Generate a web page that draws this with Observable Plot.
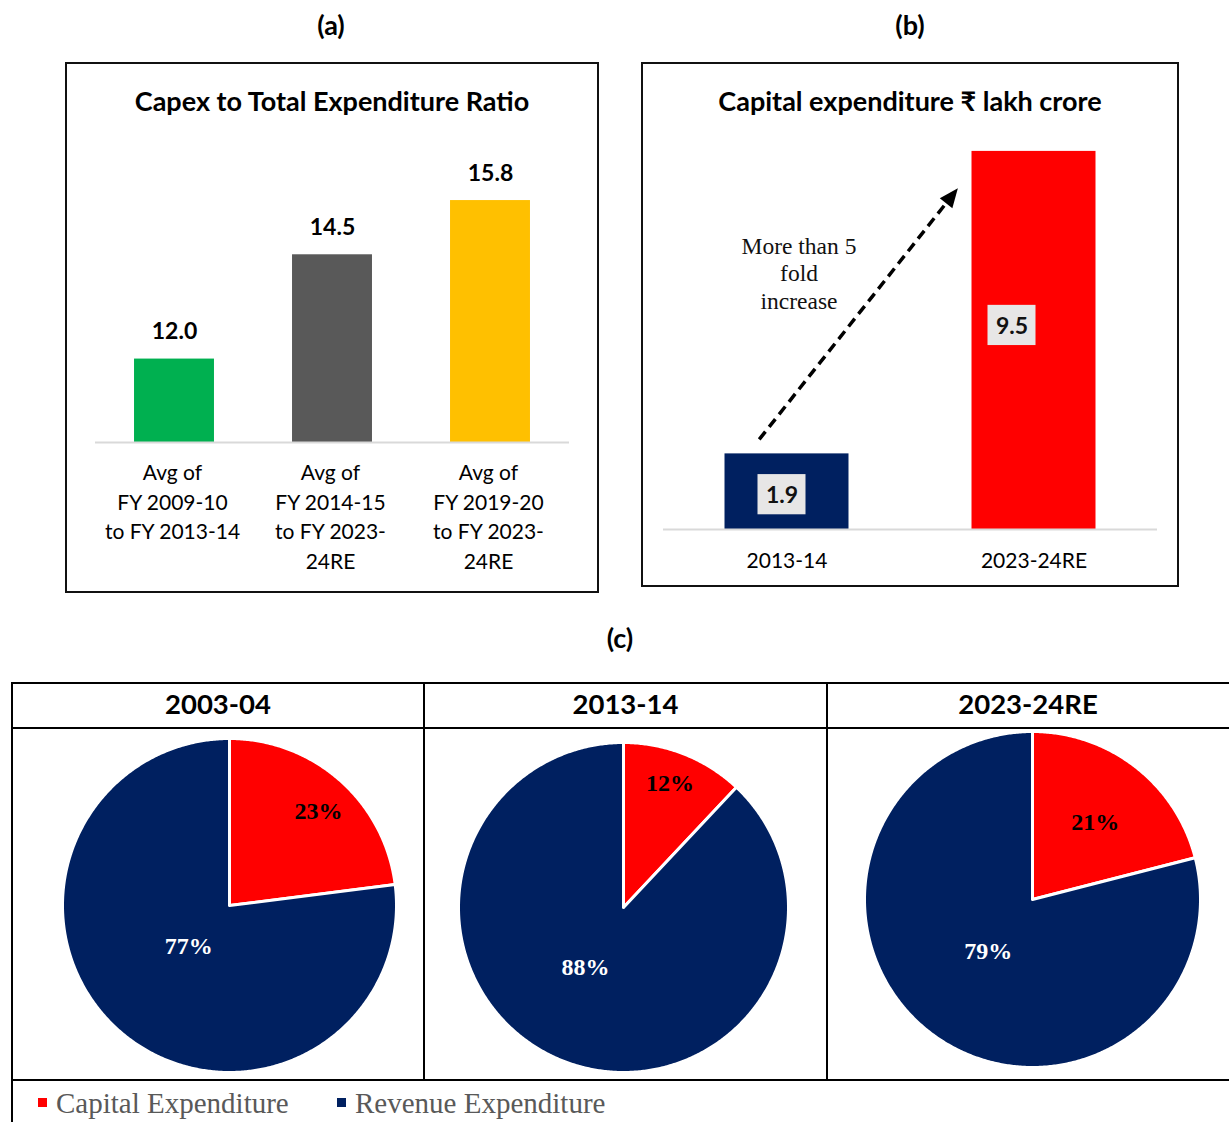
<!DOCTYPE html>
<html>
<head>
<meta charset="utf-8">
<script src="https://cdn.jsdelivr.net/npm/d3@7"></script>
<script src="https://cdn.jsdelivr.net/npm/@observablehq/plot@0.6"></script>
<style>
  html, body { margin: 0; padding: 0; background: #fff; }
  #root { position: relative; width: 1229px; height: 1122px; overflow: hidden; background: #fff; font-family: Lato, "Open Sans", sans-serif; color: #000; }
  .abs { position: absolute; }
  .plabel { font-weight: 700; font-size: 27px; text-align: center; width: 80px; line-height: 30px; }
  .box { border: 2px solid #111; box-sizing: border-box; }
  .title { font-weight: 700; font-size: 27px; text-align: center; line-height: 30px; white-space: nowrap; }
  .hline { background: #000; height: 2px; }
  .vline { background: #000; width: 2px; }
  .head { font-weight: 700; font-size: 27.5px; text-align: center; line-height: 30px; }
  .leg { font-family: "Liberation Serif", "Times New Roman", serif; font-size: 29px; color: #595959; line-height: 32px; white-space: nowrap; }
  .sw { width: 9px; height: 9px; }
</style>
</head>
<body>
<div id="root"></div>
<script>
// ---------------- data ----------------
const ratioCategories = [
  "Avg of\nFY 2009-10\nto FY 2013-14",
  "Avg of\nFY 2014-15\nto FY 2023-\n24RE",
  "Avg of\nFY 2019-20\nto FY 2023-\n24RE"
];
const ratioValues = [12.0, 14.5, 15.8];

const capexYears = ["2013-14", "2023-24RE"];
const capexValues = [1.9, 9.5];   // ₹ lakh crore

const pieYears = ["2003-04", "2013-14", "2023-24RE"];
const seriesNames = ["Capital Expenditure", "Revenue Expenditure"];
const capitalShare = [23, 12, 21];
const revenueShare = [77, 88, 79];

// ---------------- styles ----------------
const ratioColors = ["#00B050", "#595959", "#FFC000"];
const capexColors = ["#002060", "#FF0000"];
const seriesColors = {"Capital Expenditure": "#FF0000", "Revenue Expenditure": "#002060"};
const SANS = "Lato, 'Open Sans', sans-serif";
const SERIF = "'Liberation Serif', 'Times New Roman', serif";

const root = document.getElementById("root");
function addDiv(cls, css, text) {
  const d = document.createElement("div");
  d.className = "abs " + cls;
  d.style.cssText += css;
  if (text != null) d.textContent = text;
  root.appendChild(d);
  return d;
}
function place(node, left, top) {
  const d = addDiv("", `left:${left}px;top:${top}px;`);
  d.appendChild(node);
  return d;
}

// ---------------- panel (a) ----------------
addDiv("plabel", "left:291px;top:10px;", "(a)");
addDiv("box", "left:65px;top:62px;width:534px;height:531px;");
addDiv("title", "left:65px;top:86px;width:534px;", "Capex to Total Expenditure Ratio");

const ratioData = ratioCategories.map((c, i) => ({cat: c, value: ratioValues[i], color: ratioColors[i]}));
const plotA = Plot.plot({
  width: 530, height: 460,
  marginLeft: 29, marginRight: 27, marginTop: 20, marginBottom: 148,
  style: {background: "transparent", fontFamily: SANS, overflow: "visible"},
  x: {domain: ratioCategories, paddingInner: 0.494, paddingOuter: 0.247, round: false, axis: null},
  y: {domain: [10, 17], axis: null},
  color: {type: "identity"},
  marks: [
    Plot.barY(ratioData, {x: "cat", y1: 10, y2: "value", fill: "color"}),
    Plot.ruleY([10], {stroke: "#d9d9d9", strokeWidth: 2}),
    Plot.text(ratioData, {x: "cat", y: "value", text: d => d.value.toFixed(1), dy: -27,
      fontSize: 23, fontWeight: 700, fill: "#000"}),
    Plot.text(ratioData, {x: "cat", y: 10, text: "cat", lineAnchor: "top", dy: 17, dx: -2,
      fontSize: 21, lineHeight: 1.4, fill: "#000"})
  ]
});
place(plotA, 66, 130);

// ---------------- panel (b) ----------------
addDiv("plabel", "left:870px;top:10px;", "(b)");
addDiv("box", "left:641px;top:62px;width:538px;height:525px;");
addDiv("title", "left:641px;top:86px;width:538px;", "Capital expenditure ₹ lakh crore");

const capexData = capexYears.map((c, i) => ({year: c, value: capexValues[i], color: capexColors[i]}));
const boxShift = [[-5, 3], [-22, -15]];   // label-box offsets (px)
const arrowFrom = {year: "2013-14", value: 2.25, frac: 0.28};
const arrowTo = {year: "2023-24RE", value: 8.56, frac: -0.11};

function dashedArrow(index, scales) {
  const x = scales.x, y = scales.y;
  const bw = typeof x.bandwidth === "function" ? x.bandwidth() : 0;
  const x1 = x(arrowFrom.year) + arrowFrom.frac * bw, y1 = y(arrowFrom.value);
  const x2 = x(arrowTo.year) + arrowTo.frac * bw, y2 = y(arrowTo.value);
  const L = Math.hypot(x2 - x1, y2 - y1), ux = (x2 - x1) / L, uy = (y2 - y1) / L;
  const head = 19, half = 8;
  const bx = x2 - ux * head, by = y2 - uy * head;
  const g = d3.create("svg:g");
  g.append("line").attr("x1", x1).attr("y1", y1).attr("x2", bx + ux * 2).attr("y2", by + uy * 2)
    .attr("stroke", "#000").attr("stroke-width", 3.5).attr("stroke-dasharray", "10 6");
  g.append("path")
    .attr("d", `M${x2},${y2}L${bx - uy * half},${by + ux * half}L${bx + uy * half},${by - ux * half}Z`)
    .attr("fill", "#000");
  return g.node();
}

const plotB = Plot.plot({
  width: 535, height: 465,
  marginLeft: 21, marginRight: 20, marginTop: 11, marginBottom: 56,
  style: {background: "transparent", fontFamily: SANS, overflow: "visible"},
  x: {domain: capexYears, paddingInner: 0.498, paddingOuter: 0.249, round: false, axis: null},
  y: {domain: [0, 10], axis: null},
  color: {type: "identity"},
  marks: [
    Plot.barY(capexData, {x: "year", y: "value", fill: "color"}),
    Plot.ruleY([0], {stroke: "#d9d9d9", strokeWidth: 2}),
    ...capexData.map((d, i) => Plot.barY([d], {x: "year", y1: d.value / 2 - 0.505, y2: d.value / 2 + 0.505,
      insetLeft: 38, insetRight: 38, dx: boxShift[i][0], dy: boxShift[i][1], fill: "#E7E6E6"})),
    ...capexData.map((d, i) => Plot.text([d], {x: "year", y: d.value / 2, text: d => d.value.toFixed(1),
      dx: boxShift[i][0], dy: boxShift[i][1] + 1, fontSize: 23, fontWeight: 700, fill: "#111"})),
    Plot.text(capexData, {x: "year", y: 0, text: "year", dy: 32, fontSize: 21, fill: "#000"}),
    Plot.text(["More than 5\nfold\nincrease"], {x: () => capexYears[0], y: () => 6.46, text: d => d, dx: 12,
      fontFamily: SERIF, fontSize: 23.5, lineHeight: 1.18, fill: "#111"}),
    dashedArrow
  ]
});
place(plotB, 642, 120);

// ---------------- panel (c) ----------------
addDiv("plabel", "left:580px;top:623px;", "(c)");
addDiv("hline", "left:12px;top:682px;width:1217px;");
addDiv("hline", "left:12px;top:727px;width:1217px;height:1.5px;");
addDiv("hline", "left:12px;top:1079px;width:1217px;");
addDiv("vline", "left:11px;top:682px;height:440px;");
addDiv("vline", "left:423px;top:682px;height:399px;");
addDiv("vline", "left:826px;top:682px;height:399px;");
const cellX = [12, 424, 827, 1229];
pieYears.forEach((yr, k) => {
  addDiv("head", `left:${cellX[k]}px;top:689px;width:${cellX[k + 1] - cellX[k]}px;`, yr);
});

const pieCenters = [[229, 905], [623, 907], [1032, 899]];
const pieRadius = [167, 165, 168];
const labelRadius = [[0.77, 0.35], [0.80, 0.43], [0.59, 0.40]];
const labelShift = [[[4, 2], [-2, -3]], [[-2, -1], [-12, -6]], [[2, 1], [-3, -1]]];

function piePlot(k) {
  const r = pieRadius[k];
  const slices = [
    {name: seriesNames[0], value: capitalShare[k]},
    {name: seriesNames[1], value: revenueShare[k]}
  ];
  const total = d3.sum(slices, d => d.value);
  let acc = 0;
  const polys = [], labels = [];
  slices.forEach((s, j) => {
    const a0 = acc / total * 2 * Math.PI;
    acc += s.value;
    const a1 = acc / total * 2 * Math.PI;
    const pts = [{x: 0, y: 0}];
    const n = Math.max(2, Math.ceil((a1 - a0) / (Math.PI / 360)));
    for (let i = 0; i <= n; i++) {
      const a = a0 + (a1 - a0) * i / n;
      pts.push({x: Math.sin(a), y: Math.cos(a)});
    }
    pts.push({x: 0, y: 0});
    polys.push({name: s.name, pts});
    const am = (a0 + a1) / 2, f = labelRadius[k][j], sh = labelShift[k][j];
    labels.push({text: s.value + "%", x: f * Math.sin(am) + sh[0] / r, y: f * Math.cos(am) - sh[1] / r,
      color: j === 0 ? "#000" : "#fff"});
  });
  const size = 2 * r + 8;
  const svg = Plot.plot({
    width: size, height: size, margin: 4,
    style: {background: "transparent", overflow: "visible"},
    x: {domain: [-1, 1], axis: null},
    y: {domain: [-1, 1], axis: null},
    color: {type: "identity"},
    marks: [
      ...polys.map(p => Plot.line(p.pts, {x: "x", y: "y", fill: seriesColors[p.name], stroke: "#fff",
        strokeWidth: 3, strokeLinejoin: "round", curve: "linear"})),
      Plot.text(labels, {x: "x", y: "y", text: "text", fill: "color", fontFamily: SERIF,
        fontSize: 24, fontWeight: 700})
    ]
  });
  place(svg, pieCenters[k][0] - r - 4, pieCenters[k][1] - r - 4);
}
pieYears.forEach((_, k) => piePlot(k));

// legend
addDiv("sw", `left:38px;top:1098px;background:${seriesColors[seriesNames[0]]};`);
addDiv("leg", "left:56px;top:1087px;", seriesNames[0]);
addDiv("sw", `left:337px;top:1098px;background:${seriesColors[seriesNames[1]]};`);
addDiv("leg", "left:355px;top:1087px;", seriesNames[1]);
</script>
</body>
</html>
